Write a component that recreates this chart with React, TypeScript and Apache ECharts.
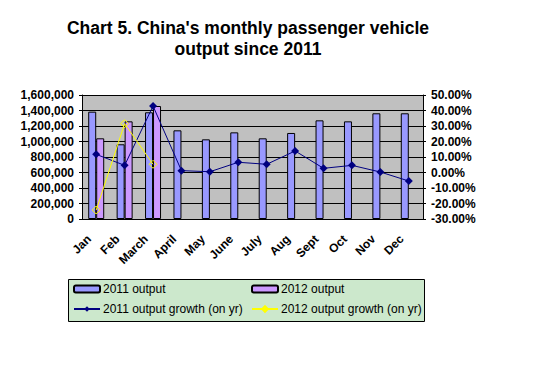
import React, { useEffect, useRef } from "react";
import * as echarts from "echarts";

const months = ["Jan", "Feb", "March", "April", "May", "June", "July", "Aug", "Sept", "Oct", "Nov", "Dec"];
const output2011 = [1385000, 964000, 1377000, 1144000, 1028000, 1118000, 1041000, 1110000, 1273000, 1260000, 1364000, 1364000];
const output2012 = [1041000, 1260000, 1458000, null, null, null, null, null, null, null, null, null];
const growth2011 = [11.7, 4.6, 42.9, 1.2, 0.5, 6.6, 5.3, 13.9, 2.7, 4.6, 0.3, -5.5];
const growth2012 = [-24.2, 31.5, 5.3, null, null, null, null, null, null, null, null, null];

const titleText = "Chart 5. China's monthly passenger vehicle\noutput since 2011";
const FONT = "Liberation Sans, Arial, sans-serif";

export default function App() {
  const ref = useRef<HTMLDivElement>(null);
  useEffect(() => {
    if (!ref.current) return;
    const chart = echarts.init(ref.current, null, { renderer: "svg" });
    const legendBase = {
      itemWidth: 26,
      itemHeight: 7,
      itemGap: 0,
      padding: 0,
      textStyle: { fontFamily: FONT, fontSize: 12, color: "#000", padding: [0, 0, 0, -2] },
      selectedMode: false,
    };
    chart.setOption({
      animation: false,
      backgroundColor: "#fff",
      textStyle: { fontFamily: FONT },
      title: {
        text: titleText,
        left: 248,
        top: 17,
        padding: 0,
        textAlign: "center",
        textStyle: { fontFamily: FONT, fontSize: 17.5, fontWeight: "bold", color: "#000", lineHeight: 21 },
      },
      graphic: [
        {
          type: "rect",
          z: 0,
          shape: { x: 68.5, y: 279.5, width: 356, height: 42 },
          style: { fill: "#CCE8CC", stroke: "#000", lineWidth: 1 },
        },
      ],
      legend: [
        { ...legendBase, data: ["2011 output"], left: 73, top: 283 },
        { ...legendBase, data: ["2012 output"], left: 251, top: 283 },
        { ...legendBase, data: ["2011 output growth (on yr)"], left: 73, top: 303 },
        { ...legendBase, data: ["2012 output growth (on yr)"], left: 251, top: 303 },
      ],
      grid: {
        left: 82,
        right: 113,
        top: 95,
        bottom: 151,
        show: true,
        backgroundColor: "#C0C0C0",
        borderWidth: 0,
        outerBoundsMode: "none",
        containLabel: false,
      },
      xAxis: {
        type: "category",
        data: months,
        boundaryGap: true,
        axisLine: { lineStyle: { color: "#000", width: 1 } },
        axisTick: { inside: true, length: 4, lineStyle: { color: "#000" } },
        axisLabel: {
          interval: 0,
          rotate: 45,
          margin: 11,
          padding: [0, 10, 0, 0],
          fontFamily: FONT,
          fontSize: 12,
          fontWeight: "bold",
          color: "#000",
        },
      },
      yAxis: [
        {
          type: "value",
          min: 0,
          max: 1600000,
          interval: 200000,
          axisLine: { show: true, lineStyle: { color: "#000" } },
          axisTick: { show: true, length: 3, lineStyle: { color: "#000" } },
          splitLine: { show: true, lineStyle: { color: "#000", width: 1 } },
          axisLabel: {
            margin: 8,
            fontFamily: FONT,
            fontSize: 12,
            fontWeight: "bold",
            color: "#000",
            formatter: (v: number) => v.toLocaleString("en-US"),
          },
        },
        {
          type: "value",
          min: -30,
          max: 50,
          interval: 10,
          position: "right",
          axisLine: { show: true, lineStyle: { color: "#000" } },
          axisTick: { show: true, length: 3, lineStyle: { color: "#000" } },
          splitLine: { show: false },
          axisLabel: {
            margin: 8,
            fontFamily: FONT,
            fontSize: 12,
            fontWeight: "bold",
            color: "#000",
            formatter: (v: number) => v.toFixed(2) + "%",
          },
        },
      ],
      series: [
        {
          name: "2011 output",
          type: "bar",
          data: output2011,
          barWidth: 8,
          barGap: "0%",
          itemStyle: { color: "#9999FF", borderColor: "#000", borderWidth: 1 },
        },
        {
          name: "2012 output",
          type: "bar",
          data: output2012,
          barWidth: 8,
          barGap: "0%",
          itemStyle: { color: "#CC99FF", borderColor: "#000", borderWidth: 1 },
        },
        {
          name: "2011 output growth (on yr)",
          type: "line",
          yAxisIndex: 1,
          data: growth2011,
          symbol: "diamond",
          symbolSize: 8,
          itemStyle: { color: "#000080" },
          lineStyle: { color: "#000080", width: 1 },
          z: 5,
        },
        {
          name: "2012 output growth (on yr)",
          type: "line",
          yAxisIndex: 1,
          data: growth2012,
          symbol: "diamond",
          symbolSize: 8,
          itemStyle: { color: "rgba(0,0,0,0)", borderColor: "#FFFF00", borderWidth: 1 },
          lineStyle: { color: "#FFFF00", width: 1 },
          z: 5,
        },
      ],
    });
    return () => chart.dispose();
  }, []);
  return (
    <div
      ref={ref}
      style={{ position: "absolute", left: 0, top: 0, width: 536, height: 370 }}
    />
  );
}
